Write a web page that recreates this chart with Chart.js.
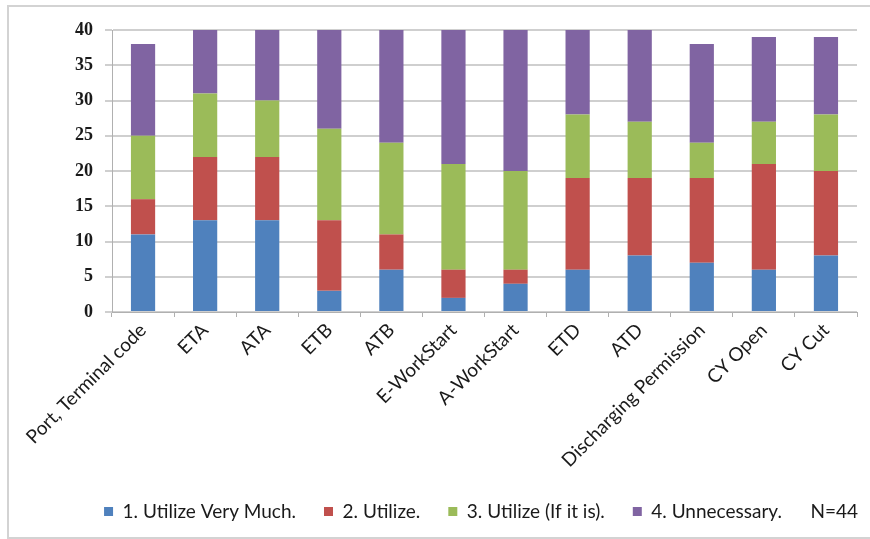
<!DOCTYPE html>
<html>
<head>
<meta charset="utf-8">
<script src="https://cdn.jsdelivr.net/npm/chart.js@4/dist/chart.umd.min.js"></script>
<style>
  html, body { margin: 0; padding: 0; background: #fff; overflow: hidden; }
  #wrap { position: relative; width: 870px; height: 539px; overflow: hidden; }
  #frame { position: absolute; left: 7px; top: 5px; width: 900px; height: 530px;
           border: 2px solid #d3d3d3; pointer-events: none; }
  canvas { position: absolute; left: 0; top: 0; }
</style>
</head>
<body>
<div id="wrap">
  <canvas id="chart" width="870" height="539"></canvas>
  <div id="frame"></div>
</div>
<script>
// Survey items along the category axis
const categories = [
  'Port, Terminal code', 'ETA', 'ATA', 'ETB', 'ATB', 'E-WorkStart',
  'A-WorkStart', 'ETD', 'ATD', 'Discharging Permission', 'CY Open', 'CY Cut'
];

// Number of answers per rating (stacked)
const utilizeVeryMuch = [11, 13, 13, 3, 6, 2, 4, 6, 8, 7, 6, 8];
const utilize         = [5, 9, 9, 10, 5, 4, 2, 13, 11, 12, 15, 12];
const utilizeIfItIs   = [9, 9, 8, 13, 13, 15, 14, 9, 8, 5, 6, 8];
const unnecessary     = [13, 9, 10, 14, 16, 19, 20, 12, 13, 14, 12, 11];

const seriesNames = [
  '1. Utilize Very Much.', '2. Utilize.', '3. Utilize (If it is).', '4. Unnecessary.'
];
const sampleNote = 'N=44';

const yMin = 0, yMax = 40, yStep = 5;

const colors = ['#4F81BD', '#C0504D', '#9BBB59', '#8064A2'];
const seriesValues = [utilizeVeryMuch, utilize, utilizeIfItIs, unnecessary];

const datasets = seriesValues.map((vals, i) => ({
  label: seriesNames[i],
  data: vals,
  backgroundColor: colors[i],
  borderWidth: 0,
  barPercentage: 0.39,
  categoryPercentage: 1.0
}));

// Sample size note drawn to the right of the legend row
const noteText = {
  id: 'noteText',
  afterDraw(chart) {
    const ctx = chart.ctx;
    const legend = chart.legend;
    const hb = legend.legendHitBoxes[legend.legendHitBoxes.length - 1];
    ctx.save();
    ctx.font = '19px Lato';
    ctx.fillStyle = '#1a1a1a';
    ctx.textAlign = 'right';
    ctx.textBaseline = 'middle';
    ctx.fillText(sampleNote, chart.chartArea.right + 1, hb.top + hb.height / 2);
    ctx.restore();
  }
};

new Chart(document.getElementById('chart'), {
  type: 'bar',
  data: { labels: categories, datasets },
  plugins: [noteText],
  options: {
    responsive: false,
    animation: false,
    layout: { padding: { left: 29, right: 13, top: 30, bottom: 8 } },
    plugins: {
      title: { display: false },
      tooltip: { enabled: false },
      legend: {
        position: 'bottom',
        labels: {
          boxWidth: 9,
          boxHeight: 9,
          padding: 28,
          color: '#1a1a1a',
          font: { family: 'Lato', size: 19 }
        }
      }
    },
    scales: {
      x: {
        stacked: true,
        afterFit: (s) => { s.height = 162; },
        grid: {
          drawOnChartArea: false,
          drawTicks: true,
          tickLength: 5,
          color: '#b0b0b0'
        },
        border: { display: true, color: '#b0b0b0', width: 1 },
        ticks: {
          autoSkip: false,
          minRotation: 45,
          maxRotation: 45,
          padding: 2,
          color: '#1a1a1a',
          font: { family: 'Lato', size: 19 }
        }
      },
      y: {
        stacked: true,
        min: yMin,
        max: yMax,
        afterFit: (s) => { s.width = 83; },
        grid: {
          color: '#cfcfcf',
          lineWidth: 2,
          drawTicks: true,
          tickLength: 7
        },
        border: { display: true, color: '#b0b0b0', width: 1 },
        ticks: {
          stepSize: yStep,
          padding: 12,
          color: '#1a1a1a',
          font: { family: 'Liberation Serif', size: 18, weight: 'bold' }
        }
      }
    }
  }
});
</script>
</body>
</html>
